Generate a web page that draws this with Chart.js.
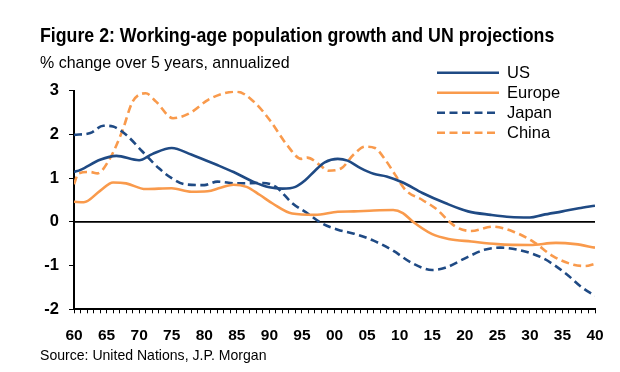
<!DOCTYPE html>
<html>
<head>
<meta charset="utf-8">
<script src="https://cdn.jsdelivr.net/npm/chart.js@4"></script>
<style>
  html, body { margin: 0; padding: 0; background: #fff; }
  #wrap { position: relative; width: 620px; height: 372px; font-family: "Liberation Sans Narrow", "Arial Narrow", "Liberation Sans", Arial, sans-serif; color: #000; }
  #wrap canvas { position: absolute; left: 0; top: 0; }
  .title { position: absolute; left: 40px; top: 23px; font-size: 21px; font-weight: bold; white-space: nowrap; transform: scaleX(0.845); transform-origin: left top; }
  .sub { position: absolute; left: 40px; top: 53px; font-size: 17px; white-space: nowrap; transform: scaleX(0.94); transform-origin: left top; }
  .source { position: absolute; left: 40px; top: 347px; font-size: 14.5px; white-space: nowrap; transform: scaleX(0.97); transform-origin: left top; }
</style>
</head>
<body>
<div id="wrap">
  <canvas id="mainChart" width="620" height="372"></canvas>
  <div class="title">Figure 2: Working-age population growth and UN projections</div>
  <div class="sub">% change over 5 years, annualized</div>
  <div class="source">Source: United Nations, J.P. Morgan</div>
</div>
<script>
// values (x = year)
var usYears = [1960, 1961, 1964, 1966.5, 1970, 1972, 1975, 1978, 1980, 1982, 1984.5, 1987.5, 1990, 1992, 1994, 1995.5, 1997, 1998.5, 2000.5, 2002, 2004, 2006, 2008, 2010.5, 2013.5, 2017, 2020.5, 2024, 2027, 2030, 2032, 2035, 2037.5, 2040];
var usValues = [1.14, 1.19, 1.42, 1.51, 1.41, 1.55, 1.69, 1.54, 1.42, 1.30, 1.14, 0.92, 0.79, 0.76, 0.80, 0.95, 1.17, 1.36, 1.44, 1.40, 1.23, 1.10, 1.04, 0.90, 0.66, 0.43, 0.24, 0.16, 0.11, 0.10, 0.16, 0.24, 0.31, 0.37];

var europeYears = [1960, 1961.5, 1964, 1966, 1968, 1971, 1975, 1978, 1980.5, 1982.5, 1984.5, 1986.5, 1988.5, 1990.5, 1993.5, 1997, 2000.5, 2003, 2006, 2009, 2010.5, 2012, 2015, 2017.5, 2021, 2025, 2030, 2034, 2037, 2040];
var europeValues = [0.46, 0.45, 0.71, 0.90, 0.88, 0.75, 0.77, 0.69, 0.70, 0.78, 0.85, 0.80, 0.62, 0.42, 0.19, 0.16, 0.23, 0.24, 0.26, 0.27, 0.20, 0.01, -0.28, -0.39, -0.45, -0.51, -0.53, -0.48, -0.51, -0.59];

var japanYears = [1960, 1962.5, 1964.5, 1966, 1968, 1970.5, 1973, 1975, 1977, 1980, 1982, 1985, 1989, 1991, 1993.5, 1996, 1998, 2000.5, 2003, 2006, 2009, 2012, 2015, 2017, 2020.5, 2023, 2025.5, 2028.5, 2032, 2035.5, 2038, 2040];
var japanValues = [1.99, 2.03, 2.20, 2.18, 1.99, 1.61, 1.23, 1.00, 0.86, 0.84, 0.92, 0.88, 0.89, 0.80, 0.43, 0.18, -0.03, -0.18, -0.27, -0.43, -0.66, -0.95, -1.10, -1.05, -0.80, -0.64, -0.59, -0.65, -0.83, -1.18, -1.50, -1.69];

var chinaYears = [1960, 1960.7, 1962.5, 1963.6, 1965.4, 1967.4, 1969, 1971, 1972.6, 1975.2, 1977.8, 1980.6, 1983, 1985, 1987.6, 1990.2, 1992.7, 1994.9, 1995.8, 1998, 1999, 2001, 2003, 2004.7, 2006.2, 2007.8, 2009.3, 2010.9, 2013.5, 2015.5, 2018.6, 2021, 2024.3, 2027.4, 2030.5, 2033.6, 2036.7, 2038.5, 2040];
var chinaValues = [0.86, 1.11, 1.14, 1.11, 1.42, 2.07, 2.75, 2.94, 2.75, 2.37, 2.49, 2.79, 2.94, 2.98, 2.75, 2.30, 1.76, 1.44, 1.47, 1.27, 1.17, 1.22, 1.55, 1.72, 1.69, 1.42, 1.08, 0.73, 0.50, 0.31, -0.11, -0.21, -0.11, -0.22, -0.45, -0.79, -0.98, -1.01, -0.96];

var seriesNames = ["US", "Europe", "Japan", "China"];
var yTicks = [-2, -1, 0, 1, 2, 3];

var NAVY = "#1f4a84";
var ORANGE = "#f99a4c";
var FONT = '"Liberation Sans Narrow", "Arial Narrow", "Liberation Sans", Arial, sans-serif';

function toPoints(xs, ys) {
    return xs.map(function (x, i) { return { x: x, y: ys[i] }; });
}

function lineSet(name, xs, ys, color, dashed) {
    return {
        label: name,
        data: toPoints(xs, ys),
        borderColor: color,
        backgroundColor: color,
        borderWidth: 2.6,
        borderDash: dashed ? [8, 4.5] : [],
        pointRadius: 0,
        cubicInterpolationMode: "monotone",
        fill: false
    };
}

// zero line across the plot
var zeroLine = {
    id: "zeroLine",
    beforeDatasetsDraw: function (chart) {
        var ctx = chart.ctx, area = chart.chartArea;
        var y = chart.scales.y.getPixelForValue(0);
        ctx.save();
        ctx.strokeStyle = "#000";
        ctx.lineWidth = 1.6;
        ctx.beginPath();
        ctx.moveTo(area.left, y);
        ctx.lineTo(area.right, y);
        ctx.stroke();
        ctx.restore();
    }
};

// legend at the top right, lines with dashes
var sideLegend = {
    id: "sideLegend",
    afterDraw: function (chart) {
        var ctx = chart.ctx;
        ctx.save();
        chart.data.datasets.forEach(function (ds, i) {
            var y = 72.7 + i * 20;
            ctx.strokeStyle = ds.borderColor;
            ctx.lineWidth = 2.6;
            ctx.setLineDash(ds.borderDash);
            ctx.beginPath();
            ctx.moveTo(437, y);
            ctx.lineTo(499, y);
            ctx.stroke();
            ctx.setLineDash([]);
            ctx.fillStyle = "#000";
            ctx.font = "16.5px " + FONT;
            ctx.textBaseline = "middle";
            ctx.fillText(ds.label, 507, y + 0.5);
        });
        ctx.restore();
    }
};

var chartData = {
    datasets: [
        lineSet(seriesNames[0], usYears, usValues, NAVY, false),
        lineSet(seriesNames[1], europeYears, europeValues, ORANGE, false),
        lineSet(seriesNames[2], japanYears, japanValues, NAVY, true),
        lineSet(seriesNames[3], chinaYears, chinaValues, ORANGE, true)
    ]
};

var chartOptions = {
    responsive: false,
    animation: false,
    layout: {
        padding: { left: 34, right: 25, top: 90.7, bottom: 22.7 }
    },
    plugins: {
        legend: { display: false },
        tooltip: { enabled: false },
        title: { display: false }
    },
    scales: {
        x: {
            type: "linear",
            min: 1960,
            max: 2040,
            afterFit: function (scale) { scale.height = 40; },
            border: { color: "#000", width: 2 },
            grid: {
                drawOnChartArea: false,
                color: "#000",
                tickLength: 4,
                tickWidth: 1
            },
            ticks: {
                stepSize: 1,
                autoSkip: false,
                maxRotation: 0,
                color: "#000",
                padding: 13,
                font: { family: FONT, size: 15.5, weight: "bold" },
                callback: function (v) {
                    if (v % 5 !== 0) return "";
                    return String(v % 100).padStart(2, "0");
                }
            }
        },
        y: {
            min: yTicks[0],
            max: yTicks[yTicks.length - 1],
            afterFit: function (scale) { scale.width = 40; },
            border: { color: "#000", width: 2 },
            grid: {
                drawOnChartArea: false,
                color: "#000",
                tickLength: 5
            },
            ticks: {
                stepSize: 1,
                color: "#000",
                padding: 10,
                font: { family: FONT, size: 16.5, weight: "bold" }
            }
        }
    }
};

new Chart(document.getElementById("mainChart"), {
    type: "line",
    data: chartData,
    options: chartOptions,
    plugins: [zeroLine, sideLegend]
});
</script>
</body>
</html>
